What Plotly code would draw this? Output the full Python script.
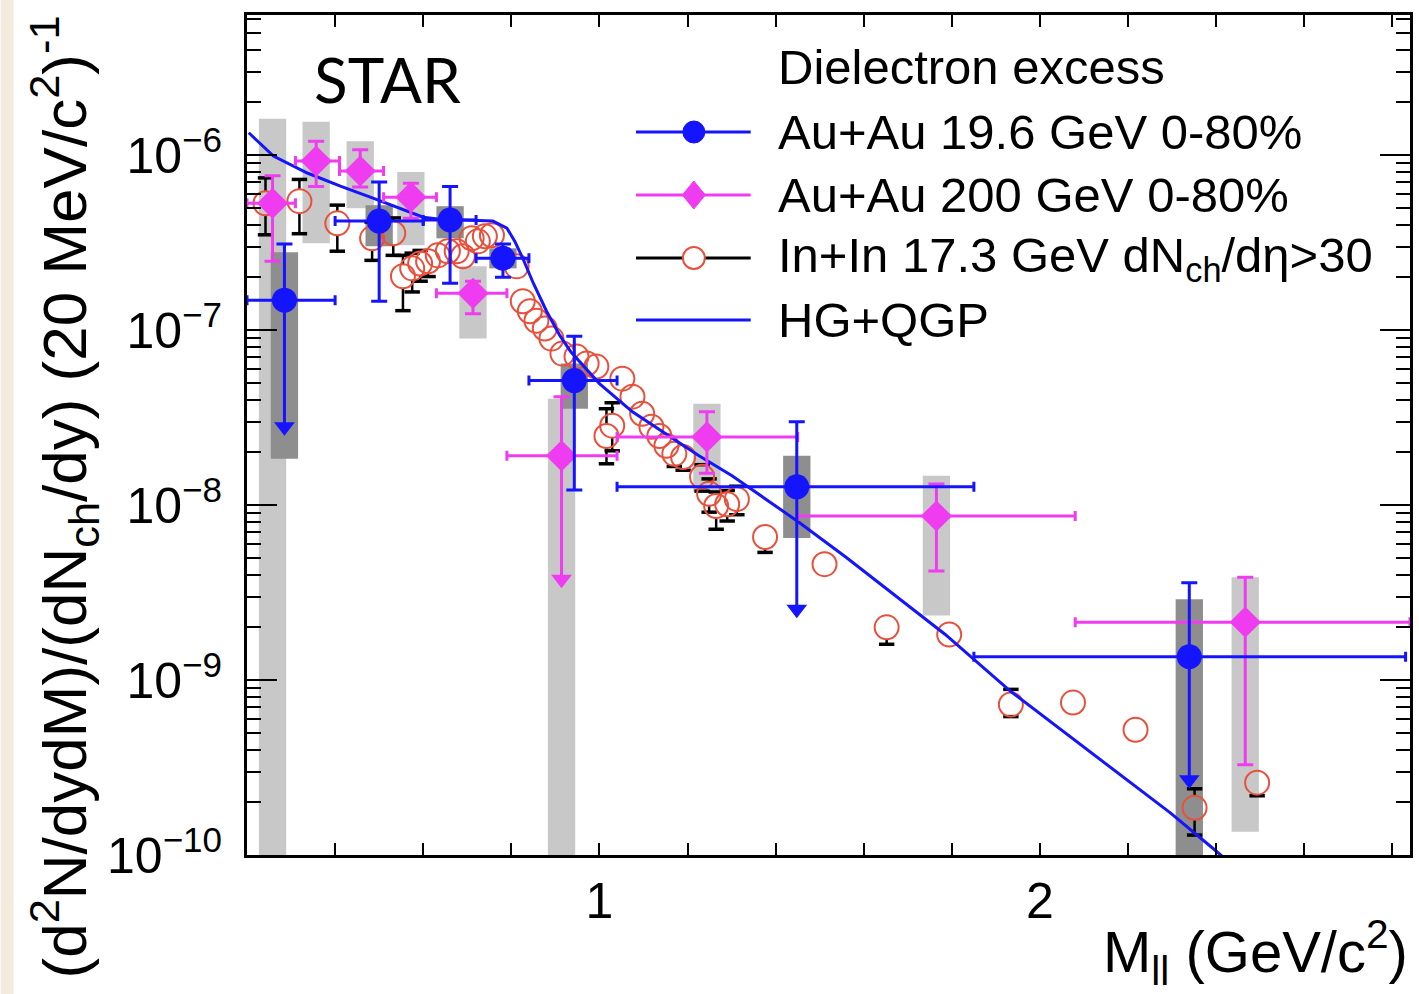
import plotly.graph_objects as go

# ---------------- data ----------------
# Au+Au 19.6 GeV 0-80% (STAR)
x_b = [0.285, 0.500, 0.661, 0.781, 0.943, 1.448, 2.339]
y_b = [1.48e-7, 4.19e-7, 4.25e-7, 2.57e-7, 5.14e-8, 1.27e-8, 1.36e-9]
xlo_b = [0.20, 0.40, 0.60, 0.72, 0.84, 1.04, 1.85]
xhi_b = [0.40, 0.60, 0.72, 0.84, 1.04, 1.85, 2.83]
yhi_b = [3.1e-7, 7.0e-7, 6.6e-7, 3.1e-7, 9.2e-8, 2.99e-8, 3.6e-9]
ylo_b = [None, 1.46e-7, 1.85e-7, 2.0e-7, 1.22e-8, None, None]
ul_b = [2.8e-8, None, None, None, None, 2.54e-9, 2.69e-10]
syslo_b = [1.84e-8, 3.01e-7, 3.34e-7, 2.25e-7, 3.55e-8, 6.47e-9, 1e-11]
syshi_b = [2.78e-7, 5.17e-7, 5.1e-7, 2.93e-7, 6.43e-8, 1.91e-8, 2.89e-9]

# Au+Au 200 GeV 0-80% (STAR)
x_m = [0.258, 0.357, 0.457, 0.572, 0.713, 0.914, 1.244, 1.765, 2.466]
y_m = [5.3e-7, 9.24e-7, 8.1e-7, 5.74e-7, 1.62e-7, 1.91e-8, 2.45e-8, 8.65e-9, 2.14e-9]
xlo_m = [0.20, 0.31, 0.41, 0.51, 0.63, 0.79, 1.04, 1.45, 2.08]
xhi_m = [0.31, 0.41, 0.51, 0.63, 0.79, 1.04, 1.45, 2.08, 2.84]
yhi_m = [7.6e-7, 1.2e-6, 1.07e-6, 6.9e-7, 1.9e-7, 4.16e-8, 3.41e-8, 1.32e-8, 3.86e-9]
ylo_m = [2.47e-7, 6.6e-7, 6.56e-7, 4.35e-7, 1.24e-7, None, 1.52e-8, 4.19e-9, 3.28e-10]
ul_m = [None, None, None, None, None, 3.77e-9, None, None, None]
syslo_m = [1e-11, 3.13e-7, 4.97e-7, 3.05e-7, 8.93e-8, 1e-11, 1.19e-8, 2.34e-9, 1.36e-10]
syshi_m = [1.61e-6, 1.55e-6, 1.2e-6, 8.0e-7, 2.31e-7, 4.05e-8, 3.79e-8, 1.47e-8, 3.86e-9]

# In+In 17.3 GeV dNch/deta>30 (NA60)
x_r = [0.242, 0.319, 0.405, 0.484, 0.532, 0.554, 0.575, 0.593, 0.611, 0.633,
       0.656, 0.676, 0.690, 0.710, 0.724, 0.740, 0.756, 0.812, 0.826, 0.842,
       0.857, 0.876, 0.891, 0.916, 0.948, 0.971, 0.993, 1.016, 1.029, 1.052,
       1.075, 1.097, 1.118, 1.136, 1.152, 1.170, 1.190, 1.233, 1.249, 1.265,
       1.290, 1.312, 1.376, 1.511, 1.652, 1.794, 1.934, 2.075, 2.217, 2.351,
       2.493]
y_r = [5.3e-7, 5.45e-7, 4.07e-7, 3.34e-7, 3.57e-7, 2.03e-7, 2.25e-7, 2.40e-7, 2.47e-7, 2.67e-7,
       2.82e-7, 2.82e-7, 2.64e-7, 3.34e-7, 3.21e-7, 3.43e-7, 3.48e-7, 2.31e-7, 1.46e-7, 1.28e-7,
       1.13e-7, 1.02e-7, 8.93e-8, 7.33e-8, 7.05e-8, 6.43e-8, 6.18e-8, 2.48e-8, 2.84e-8, 5.27e-8,
       4.16e-8, 3.32e-8, 2.80e-8, 2.48e-8, 2.18e-8, 1.96e-8, 1.88e-8, 1.45e-8, 1.16e-8, 9.87e-9,
       1.01e-8, 1.08e-8, 6.56e-9, 4.59e-9, 2.0e-9, 1.82e-9, 7.24e-10, 7.43e-10, 5.2e-10, 1.86e-10,
       2.59e-10]
eup_r = [2.1e-7, 1.8e-7, 1.1e-7, 0.8e-7, 0.8e-7, 0.64e-7, 0.5e-7, 0.45e-7, 0.4e-7, 0.35e-7,
         0.3e-7, 0.3e-7, 0.25e-7, 0.25e-7, 0.2e-7, 0.2e-7, 0.2e-7, 0.15e-7, 0.1e-7, 0.08e-7,
         0.07e-7, 0.06e-7, 0.5e-8, 0.4e-8, 0.4e-8, 0.4e-8, 0.4e-8, 1.07e-8, 1.0e-8, 0.3e-8,
         0.3e-8, 0.3e-8, 0.3e-8, 0.3e-8, 0.3e-8, 0.3e-8, 0.3e-8, 0.25e-8, 0.25e-8, 2.0e-9,
         0.2e-8, 0.2e-8, 1.0e-9, 0.4e-9, 0.34e-9, 0.15e-9, 1.6e-10, 0.5e-10, 0.75e-10, 0.53e-10,
         0.4e-10]
edn_r = [1.8e-7, 1.9e-7, 1.25e-7, 0.84e-7, 0.9e-7, 0.74e-7, 0.6e-7, 0.5e-7, 0.45e-7, 0.35e-7,
         0.3e-7, 0.3e-7, 0.25e-7, 0.25e-7, 0.2e-7, 0.2e-7, 0.2e-7, 0.15e-7, 0.1e-7, 0.08e-7,
         0.07e-7, 0.06e-7, 0.5e-8, 0.4e-8, 0.4e-8, 0.4e-8, 0.4e-8, 0.76e-8, 0.8e-8, 0.3e-8,
         0.3e-8, 0.3e-8, 0.3e-8, 0.3e-8, 0.3e-8, 0.3e-8, 0.3e-8, 0.25e-8, 0.25e-8, 2.6e-9,
         0.2e-8, 0.2e-8, 1.2e-9, 0.4e-9, 0.4e-9, 0.15e-9, 1.06e-10, 0.5e-10, 0.75e-10, 0.56e-10,
         0.41e-10]

# HG+QGP model
x_t = [0.204, 0.260, 0.337, 0.412, 0.486, 0.563, 0.600, 0.638, 0.713, 0.758,
       0.790, 0.808, 0.826, 0.850, 0.880, 0.910, 0.935, 0.962, 1.000, 1.075,
       1.152, 1.226, 1.301, 1.378, 1.452, 1.559, 1.708, 1.785, 1.934, 2.147,
       2.296, 2.391, 2.425]
y_t = [1.34e-6, 9.87e-7, 7.89e-7, 6.64e-7, 5.67e-7, 4.78e-7, 4.41e-7, 4.30e-7, 4.25e-7, 4.19e-7,
       3.82e-7, 3.21e-7, 2.57e-7, 1.85e-7, 1.28e-7, 9.31e-8, 7.5e-8, 6.27e-8, 4.94e-8, 3.41e-8,
       2.55e-8, 1.91e-8, 1.47e-8, 1.08e-8, 8.0e-9, 5.04e-9, 2.57e-9, 1.82e-9, 8.59e-10, 3.37e-10,
       1.74e-10, 1.10e-10, 9.3e-11]

x_tickvals = [0.4, 0.6, 0.8, 1.0, 1.2, 1.4, 1.6, 1.8, 2.0, 2.2, 2.4, 2.6, 2.8]
x_ticktext = ["", "", "", "1", "", "", "", "", "2", "", "", "", ""]
y_tickvals = [1e-10, 1e-9, 1e-8, 1e-7, 1e-6]
y_ticktext = ["10<sup>\u221210</sup>", "10<sup>\u22129</sup>", "10<sup>\u22128</sup>",
              "10<sup>\u22127</sup>", "10<sup>\u22126</sup>"]

# ---------------- style ----------------
FONT = "Liberation Sans, Arial, Helvetica, sans-serif"
BLUE = "#1414ff"
MAG = "#f03cf0"
RED = "#e8503c"
DARK = "#8e8e8e"
LIGHT = "#c8c8c8"
BOXW = 0.031
RED_SIZE = 24
DECADE_PX = 175.0
CIRCLE_FAC = 10 ** ((RED_SIZE / 2) / DECADE_PX)  # marker radius expressed as a log factor

W, H = 1419, 994
L, R, T, B = 247, 6, 15, 139
PW, PH = W - L - R, H - T - B


def px(xp):
    return (xp - L) / PW


def py(yp):
    return (H - B - yp) / PH


fig = go.Figure()

shapes = []
# beige strip at the far left of the image
shapes.append(dict(type="rect", xref="paper", yref="paper", x0=px(0), x1=px(13),
                   y0=py(H), y1=py(0), fillcolor="#f3ebdd", line_width=0, layer="below"))
for xi, lo, hi in zip(x_m, syslo_m, syshi_m):
    shapes.append(dict(type="rect", xref="x", yref="y", x0=xi - BOXW, x1=xi + BOXW,
                       y0=lo, y1=hi, fillcolor=LIGHT, line_width=0, layer="below"))
for xi, lo, hi in zip(x_b, syslo_b, syshi_b):
    shapes.append(dict(type="rect", xref="x", yref="y", x0=xi - BOXW, x1=xi + BOXW,
                       y0=lo, y1=hi, fillcolor=DARK, line_width=0, layer="below"))

# NA60 error bars: drawn only outside the open circle (ROOT style)
seg_x, seg_y, cap_x, cap_y = [], [], [], []
for xi, yi, up, dn in zip(x_r, y_r, eup_r, edn_r):
    top, bot = yi + up, yi - dn
    if top > yi * CIRCLE_FAC:
        seg_x += [xi, xi, None]
        seg_y += [yi * CIRCLE_FAC, top, None]
        cap_x.append(xi)
        cap_y.append(top)
    if bot < yi / CIRCLE_FAC:
        seg_x += [xi, xi, None]
        seg_y += [yi / CIRCLE_FAC, bot, None]
        cap_x.append(xi)
        cap_y.append(bot)
fig.add_trace(go.Scatter(x=seg_x, y=seg_y, mode="lines", line=dict(color="black", width=2.5),
                         showlegend=False))
fig.add_trace(go.Scatter(x=cap_x, y=cap_y, mode="markers",
                         marker=dict(symbol="line-ew", size=11, line=dict(color="black", width=3.5)),
                         showlegend=False))
fig.add_trace(go.Scatter(
    x=x_r, y=y_r, mode="markers",
    marker=dict(symbol="circle-open", size=RED_SIZE, color=RED, line=dict(width=2, color=RED)),
    showlegend=False))

# model
fig.add_trace(go.Scatter(x=x_t, y=y_t, mode="lines", line=dict(color=BLUE, width=3),
                         showlegend=False))


def errs(x, y, xlo, xhi, yhi, ylo):
    ex_p = [b - a for a, b in zip(x, xhi)]
    ex_m = [a - b for a, b in zip(x, xlo)]
    ey_p = [b - a for a, b in zip(y, yhi)]
    ey_m = [(a - b) if b is not None else 0 for a, b in zip(y, ylo)]
    return ex_p, ex_m, ey_p, ey_m


def arrows(x, y, ul):
    ax, ay, tx, ty = [], [], [], []
    for xi, yi, ui in zip(x, y, ul):
        if ui is not None:
            ax += [xi, xi, None]
            ay += [yi, ui, None]
            tx.append(xi)
            ty.append(ui)
    return ax, ay, tx, ty


for (x, y, xlo, xhi, yhi, ylo, ul, col, sym, msize) in [
        (x_m, y_m, xlo_m, xhi_m, yhi_m, ylo_m, ul_m, MAG, "diamond", 24),
        (x_b, y_b, xlo_b, xhi_b, yhi_b, ylo_b, ul_b, BLUE, "circle", 25)]:
    ex_p, ex_m, ey_p, ey_m = errs(x, y, xlo, xhi, yhi, ylo)
    ax, ay, tx, ty = arrows(x, y, ul)
    fig.add_trace(go.Scatter(x=ax, y=ay, mode="lines", line=dict(color=col, width=3),
                             showlegend=False))
    fig.add_trace(go.Scatter(x=tx, y=ty, mode="markers",
                             marker=dict(symbol="triangle-down", size=18, color=col),
                             showlegend=False))
    fig.add_trace(go.Scatter(
        x=x, y=y, mode="markers",
        marker=dict(symbol=sym, size=msize, color=col),
        error_x=dict(type="data", array=ex_p, arrayminus=ex_m, color=col, thickness=3, width=5),
        error_y=dict(type="data", array=ey_p, arrayminus=ey_m, color=col, thickness=3, width=8),
        showlegend=False))

# ---------------- custom legend ----------------
lx0, lx1, lxm, ltx = px(637), px(752), px(695), px(777)
rows = [py(132), py(195), py(258), py(320)]
line_cols = [BLUE, MAG, "black", BLUE]
for yy, c in zip(rows, line_cols):
    shapes.append(dict(type="line", xref="paper", yref="paper", x0=lx0, x1=lx1, y0=yy, y1=yy,
                       line=dict(color=c, width=3)))
rx, ry = 11 / PW, 11 / PH
shapes.append(dict(type="circle", xref="paper", yref="paper", x0=lxm - rx, x1=lxm + rx,
                   y0=rows[0] - ry, y1=rows[0] + ry, fillcolor=BLUE, line=dict(color=BLUE, width=1)))
dx, dy = 11.5 / PW, 14 / PH
shapes.append(dict(type="path", xref="paper", yref="paper",
                   path=f"M {lxm - dx} {rows[1]} L {lxm} {rows[1] + dy} L {lxm + dx} {rows[1]} L {lxm} {rows[1] - dy} Z",
                   fillcolor=MAG, line=dict(color=MAG, width=1)))
shapes.append(dict(type="circle", xref="paper", yref="paper", x0=lxm - rx, x1=lxm + rx,
                   y0=rows[2] - ry, y1=rows[2] + ry, fillcolor="white", line=dict(color=RED, width=2)))

labels = ["Au+Au 19.6 GeV 0-80%", "Au+Au 200 GeV 0-80%",
          "In+In 17.3 GeV dN<sub>ch</sub>/d\u03b7>30", "HG+QGP"]
annotations = []
annotations.append(dict(text="Dielectron excess", xref="paper", yref="paper", x=ltx, y=py(67),
                        xanchor="left", yanchor="middle", showarrow=False,
                        font=dict(family=FONT, size=49, color="black")))
for yy, t in zip(rows, labels):
    annotations.append(dict(text=t, xref="paper", yref="paper", x=ltx, y=yy,
                            xanchor="left", yanchor="middle", showarrow=False,
                            font=dict(family=FONT, size=49, color="black")))

annotations.append(dict(text="STAR", xref="paper", yref="paper", x=px(312), y=py(79),
                        xanchor="left", yanchor="middle", showarrow=False,
                        font=dict(family="Lato, Open Sans, sans-serif", size=62, color="black")))

annotations.append(dict(
    text="(d<sup>2</sup>N/dydM)/(dN<sub>ch</sub>/dy) (20 MeV/c<sup>2</sup>)<sup>-1</sup>",
    xref="paper", yref="paper", x=px(64), y=py(497), xanchor="center", yanchor="middle",
    textangle=-90, showarrow=False, font=dict(family=FONT, size=62, color="black")))

annotations.append(dict(
    text="M<sub>ll</sub> (GeV/c<sup>2</sup>)", xref="paper", yref="paper",
    x=px(1413), y=py(952), xanchor="right", yanchor="middle", showarrow=False,
    font=dict(family=FONT, size=58, color="black")))

minor_vals = [k * 10.0 ** n for n in range(-10, -5) for k in range(2, 10)]

fig.update_layout(
    width=W, height=H,
    margin=dict(l=L, r=R, t=T, b=B, pad=0),
    paper_bgcolor="white", plot_bgcolor="white",
    showlegend=False,
    shapes=shapes, annotations=annotations,
    xaxis=dict(range=[0.2, 2.84], tickmode="array", tickvals=x_tickvals, ticktext=x_ticktext,
               ticks="inside", ticklen=12, tickwidth=2, tickcolor="black",
               showline=True, linewidth=3, linecolor="black", mirror="ticks",
               showgrid=False, zeroline=False,
               tickfont=dict(family=FONT, size=50, color="black")),
    yaxis=dict(type="log", range=[-10, -5.2], tickmode="array", tickvals=y_tickvals,
               ticktext=y_ticktext, ticks="inside", ticklen=30, tickwidth=2, tickcolor="black",
               minor=dict(ticks="inside", ticklen=14, tickwidth=2, tickcolor="black",
                          tickmode="array", tickvals=minor_vals, showgrid=False),
               showline=True, linewidth=3, linecolor="black", mirror="ticks",
               showgrid=False, zeroline=False, ticklabelstandoff=12,
               tickfont=dict(family=FONT, size=50, color="black")),
)

fig.write_html("out.html", config={"displayModeBar": False},
               post_script="document.body.style.margin='0px';")
